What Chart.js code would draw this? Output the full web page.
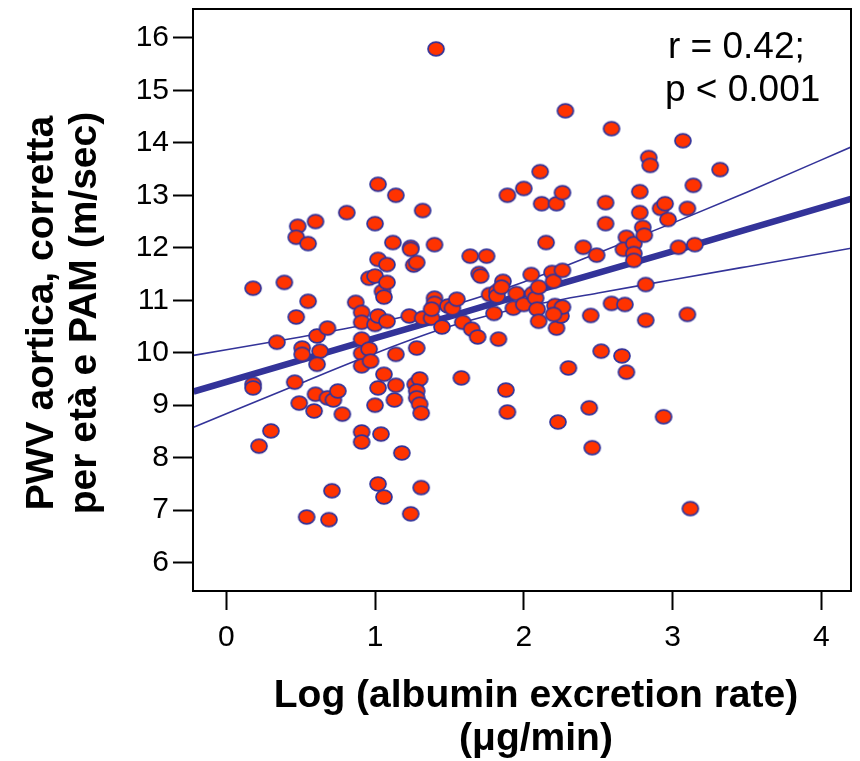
<!DOCTYPE html>
<html><head><meta charset="utf-8">
<script src="https://cdn.jsdelivr.net/npm/chart.js@4.4.1/dist/chart.umd.min.js"></script>
<style>html,body{margin:0;padding:0;background:#fff}canvas{display:block}</style>
</head><body>
<canvas id="c" width="860" height="761"></canvas>
<script>
// Scatter data: Log(albumin excretion rate) vs corrected aortic PWV
const logAER = [0.18,0.18,0.18,0.22,0.30,0.34,0.39,0.48,0.47,0.47,0.46,0.51,0.51,0.49,0.55,0.55,0.60,0.54,0.59,0.63,
0.61,0.61,0.60,0.68,0.68,0.72,0.75,0.69,0.71,0.78,0.81,0.87,0.91,0.91,0.91,0.91,0.96,0.91,0.97,0.91,
0.91,1.00,1.02,1.00,1.02,1.00,1.02,0.96,1.00,1.02,1.02,1.04,1.06,1.06,1.05,1.06,1.08,1.08,1.08,1.12,
1.14,1.14,1.14,1.13,1.18,1.23,1.24,1.24,1.24,1.26,1.28,1.28,1.27,1.30,1.28,1.28,1.30,1.31,1.31,1.32,
1.32,1.38,1.40,1.40,1.38,1.40,1.41,1.45,1.49,1.52,1.55,1.58,1.59,1.64,1.75,1.65,1.69,1.70,1.71,1.77,
1.80,1.82,1.82,1.83,1.86,1.85,1.88,1.89,1.89,1.93,1.95,2.00,2.00,2.05,2.06,2.08,2.10,2.09,2.10,2.11,
2.12,2.15,2.19,2.20,2.21,2.22,2.22,2.23,2.25,2.26,2.26,2.20,2.26,2.28,2.30,2.40,2.44,2.45,2.46,2.49,
2.52,2.55,2.55,2.59,2.59,2.66,2.69,2.68,2.69,2.67,2.74,2.74,2.74,2.78,2.78,2.80,2.81,2.82,2.82,2.84,
2.85,2.92,2.95,2.97,2.94,3.04,3.07,3.10,3.10,3.12,3.14,3.15,3.32];
const pwv = [11.23,9.40,9.33,8.22,8.51,10.20,11.34,12.41,12.20,10.68,9.44,10.09,9.97,9.04,10.98,12.08,12.50,6.87,8.89,10.03,
10.32,9.78,9.21,10.47,9.14,9.10,9.27,6.82,7.37,8.83,12.67,10.96,10.77,10.58,10.26,9.99,10.07,9.75,9.84,8.49,
8.30,10.54,10.70,9.00,13.21,12.46,11.78,11.42,11.46,9.33,7.50,8.45,9.59,7.25,11.17,11.06,11.68,11.34,10.60,12.10,
13.00,9.97,9.38,9.10,8.09,10.70,12.01,11.97,6.93,11.67,11.72,10.09,9.40,9.50,9.27,9.14,9.02,8.85,7.43,12.71,
10.66,10.66,11.04,10.94,10.83,12.06,15.79,10.49,10.89,10.85,11.02,9.52,10.58,11.84,11.84,10.45,10.30,11.51,11.46,11.11,
10.75,11.17,11.08,10.26,11.36,11.25,9.29,13.00,8.87,10.85,11.13,13.13,10.92,11.49,11.13,11.04,11.25,10.83,10.60,13.45,
12.84,12.10,11.53,11.36,10.90,10.47,12.84,8.68,10.70,11.57,10.87,10.73,13.05,14.61,9.71,12.01,8.95,10.71,8.19,11.86,
10.03,12.86,12.46,14.27,10.94,9.94,9.63,10.92,12.20,11.97,12.08,11.89,11.76,13.07,12.67,12.39,12.24,11.30,10.62,13.72,
13.57,12.75,12.84,12.54,8.78,12.01,14.04,12.75,10.73,7.03,13.19,12.06,13.49];

// Regression line and confidence band
const fitX    = [-0.22, 0.5, 1.0, 1.5, 2.0, 2.5, 3.0, 3.5, 4.2];
const fitY    = [9.26, 9.86, 10.28, 10.69, 11.11, 11.52, 11.93, 12.35, 12.93];
const ciUpper = [9.95, 10.30, 10.57, 10.89, 11.35, 11.90, 12.47, 13.06, 13.92];
const ciLower = [8.58, 9.42, 9.99, 10.50, 10.87, 11.14, 11.39, 11.64, 11.99];

const xTicks = [0, 1, 2, 3, 4];
const yTicks = [6, 7, 8, 9, 10, 11, 12, 13, 14, 15, 16];
const xTitle = ["Log (albumin excretion rate)", "(\u03bcg/min)"];
const yTitle = ["PWV aortica, corretta", "per et\u00e0 e PAM (m/sec)"];
const annotation = ["r = 0.42;", "p < 0.001"];

const BLUE = '#333399';
const RED = '#FF3300';

const pt = document.createElement('canvas');
pt.width = 20; pt.height = 18;
(function(){
  const g = pt.getContext('2d');
  g.beginPath(); g.ellipse(10, 9, 8.0, 6.9, 0, 0, 2*Math.PI);
  g.fillStyle = RED; g.fill();
  g.lineWidth = 1.7; g.strokeStyle = BLUE; g.stroke();
})();

const toXY = (xs, ys) => xs.map((x, i) => ({x: x, y: ys[i]}));

const decor = {
  id: 'decor',
  afterDraw(chart) {
    const ctx = chart.ctx, a = chart.chartArea;
    ctx.save();
    ctx.strokeStyle = '#000'; ctx.lineWidth = 2;
    ctx.strokeRect(a.left, a.top, a.right - a.left, a.bottom - a.top);
    ctx.fillStyle = '#000';
    // annotation
    ctx.font = '37px "Liberation Sans", Arial, sans-serif';
    ctx.textAlign = 'left'; ctx.textBaseline = 'alphabetic';
    ctx.fillText(annotation[0], 668, 58);
    ctx.fillText(annotation[1], 665, 101);
    // x title
    ctx.textAlign = 'center';
    ctx.font = 'bold 39px "Liberation Sans", Arial, sans-serif';
    ctx.fillText(xTitle[0], 536, 707);
    ctx.fillText(xTitle[1], 536, 750);
    // y title
    ctx.translate(0, 313);
    ctx.rotate(-Math.PI/2);
    ctx.fillText(yTitle[0], 0, 53);
    ctx.fillText(yTitle[1], 0, 96);
    ctx.restore();
  }
};

new Chart(document.getElementById('c'), {
  type: 'scatter',
  data: {
    datasets: [
      { type: 'scatter', data: toXY(logAER, pwv), pointStyle: pt, pointRadius: 8, order: 0 },
      { type: 'line', data: toXY(fitX, fitY), borderColor: BLUE, borderWidth: 6.5, pointRadius: 0, fill: false, order: 1 },
      { type: 'line', data: toXY(fitX, ciUpper), borderColor: BLUE, borderWidth: 1.6, pointRadius: 0, fill: false, cubicInterpolationMode: 'monotone', order: 1 },
      { type: 'line', data: toXY(fitX, ciLower), borderColor: BLUE, borderWidth: 1.6, pointRadius: 0, fill: false, cubicInterpolationMode: 'monotone', order: 1 }
    ]
  },
  options: {
    responsive: false, animation: false, devicePixelRatio: 1,
    layout: { padding: { top: 7, right: 5, left: 0, bottom: 0 } },
    plugins: { legend: { display: false }, tooltip: { enabled: false } },
    scales: {
      x: {
        type: 'linear', min: -0.224, max: 4.2,
        afterBuildTicks: s => { s.ticks = xTicks.map(v => ({ value: v })); },
        afterFit: s => { s.height = 170; s.paddingLeft = 0; s.paddingRight = 0; },
        ticks: { color: '#000', padding: 10, font: { family: '"Liberation Sans", Arial, sans-serif', size: 30 } },
        grid: { display: true, drawOnChartArea: false, drawTicks: true, tickLength: 19, tickWidth: 2, tickColor: '#000' },
        border: { display: false }
      },
      y: {
        type: 'linear', min: 5.46, max: 16.55,
        afterBuildTicks: s => { s.ticks = yTicks.map(v => ({ value: v })); },
        afterFit: s => { s.width = 193; s.paddingTop = 0; s.paddingBottom = 0; },
        ticks: { color: '#000', padding: 4, font: { family: '"Liberation Sans", Arial, sans-serif', size: 30 } },
        grid: { display: true, drawOnChartArea: false, drawTicks: true, tickLength: 20, tickWidth: 2, tickColor: '#000' },
        border: { display: false }
      }
    }
  },
  plugins: [decor]
});
</script>
</body></html>
